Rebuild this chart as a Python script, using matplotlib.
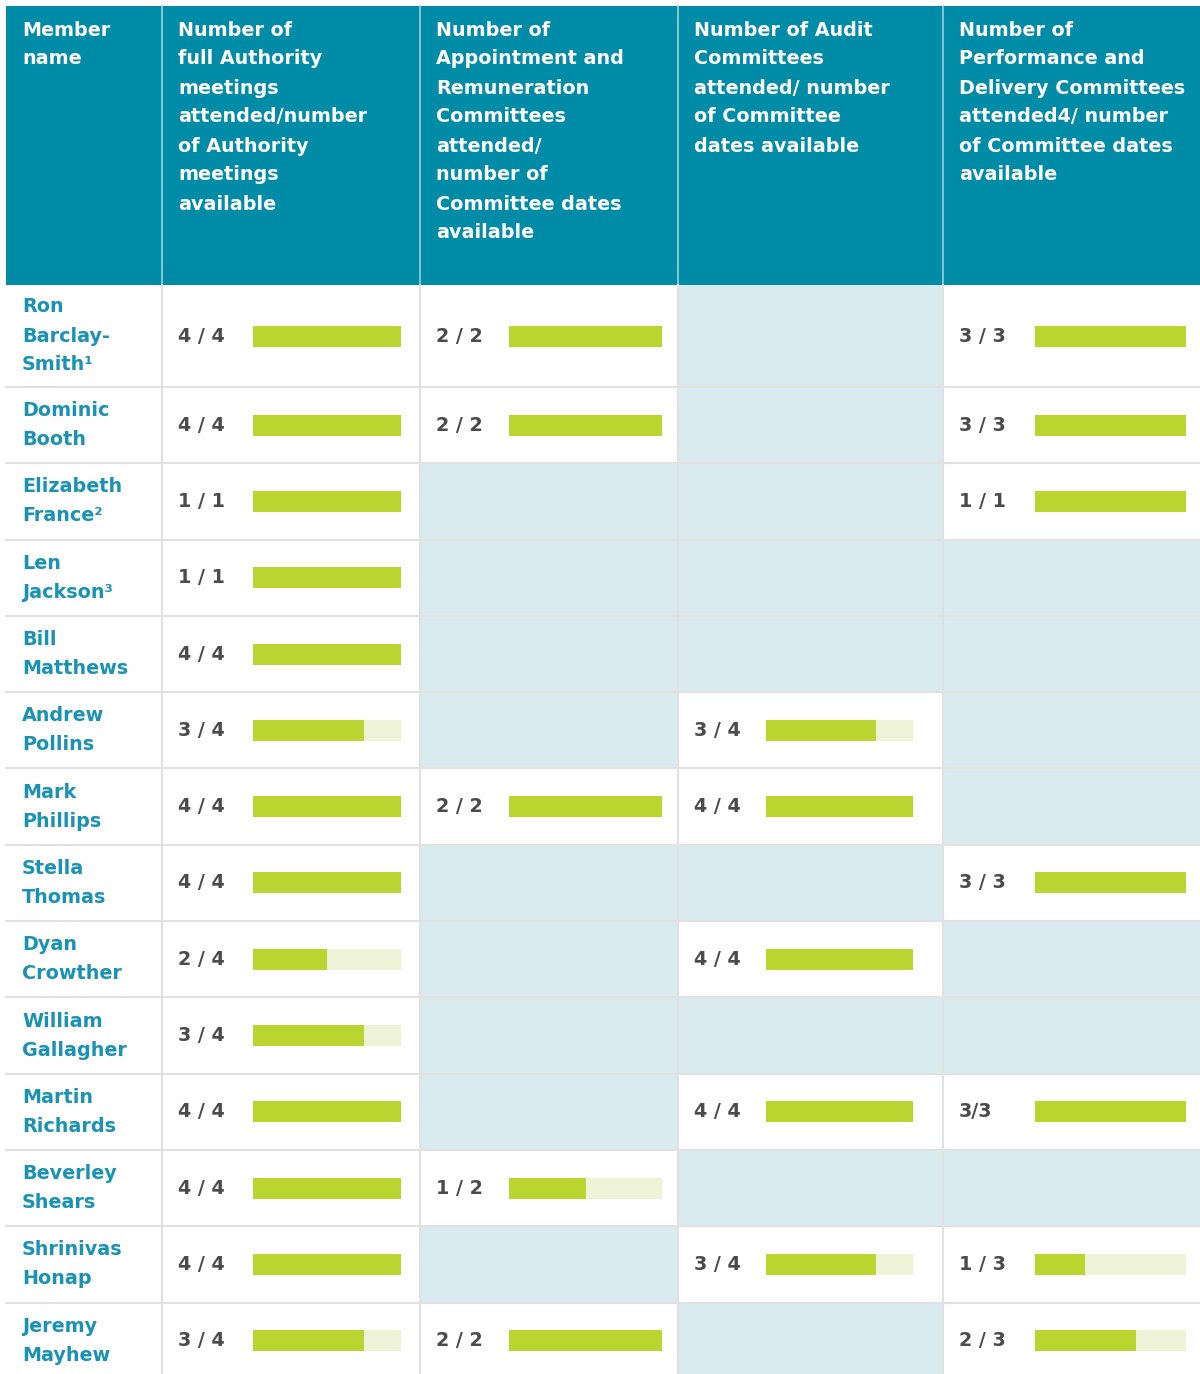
import matplotlib.pyplot as plt
from matplotlib.patches import Rectangle

plt.rcParams['font.family'] = ['DejaVu Sans']

# column headers
headers = [
    "Member\nname",
    "Number of\nfull Authority\nmeetings\nattended/number\nof Authority\nmeetings\navailable",
    "Number of\nAppointment and\nRemuneration\nCommittees\nattended/\nnumber of\nCommittee dates\navailable",
    "Number of Audit\nCommittees\nattended/ number\nof Committee\ndates available",
    "Number of\nPerformance and\nDelivery Committees\nattended4/ number\nof Committee dates\navailable",
]

members = [
    "Ron\nBarclay-\nSmith¹", "Dominic\nBooth", "Elizabeth\nFrance²", "Len\nJackson³",
    "Bill\nMatthews", "Andrew\nPollins", "Mark\nPhillips", "Stella\nThomas",
    "Dyan\nCrowther", "William\nGallagher", "Martin\nRichards", "Beverley\nShears",
    "Shrinivas\nHonap", "Jeremy\nMayhew",
]

# attended / available labels, None = not a member of that committee
authority = ["4 / 4", "4 / 4", "1 / 1", "1 / 1", "4 / 4", "3 / 4", "4 / 4",
             "4 / 4", "2 / 4", "3 / 4", "4 / 4", "4 / 4", "4 / 4", "3 / 4"]
appointment = ["2 / 2", "2 / 2", None, None, None, None, "2 / 2",
               None, None, None, None, "1 / 2", None, "2 / 2"]
audit = [None, None, None, None, None, "3 / 4", "4 / 4",
         None, "4 / 4", None, "4 / 4", None, "3 / 4", None]
performance = ["3 / 3", "3 / 3", "1 / 1", None, None, None, None,
               "3 / 3", None, None, "3/3", None, "1 / 3", "2 / 3"]

columns = [authority, appointment, audit, performance]

# layout in pixels
W, H = 1200, 1374
col_x = [6, 162, 420, 678, 943, 1200]
head_top, head_bot = 6, 285
first_row_h = 102
row_h = 76.3
bar_x = [253, 509, 766, 1035]
bar_len = [148, 153, 147, 151]
bar_h = 21
FS = 13.8

TEAL = "#008BA7"
NAME = "#1A93B3"
EMPTY = "#DAEBF0"
GRID = "#E1E1E1"
GREEN = "#BAD530"
PALE = "#EEF3D8"
NUM = "#4B4B4B"

row_top = [head_bot]
for i in range(len(members)):
    row_top.append(row_top[-1] + (first_row_h if i == 0 else row_h))

fig = plt.figure(figsize=(W / 100, H / 100), dpi=100)
ax = fig.add_axes([0, 0, 1, 1])
ax.set_xlim(0, W)
ax.set_ylim(H, 0)
ax.axis("off")

# header
ax.add_patch(Rectangle((col_x[0], head_top), col_x[-1] - col_x[0], head_bot - head_top,
                       color=TEAL, lw=0))
for j, txt in enumerate(headers):
    for k, line in enumerate(txt.split("\n")):
        ax.text(col_x[j] + 16, 30 + k * 29, line, color="white", fontsize=FS,
                fontweight="bold", va="center", ha="left")
for x in col_x[1:-1]:
    ax.plot([x, x], [head_top, head_bot], color="#9FCFDA", lw=1.2)

# body
for i, name in enumerate(members):
    top, bot = row_top[i], row_top[i + 1]
    yc = (top + bot) / 2
    lines = name.split("\n")
    for k, line in enumerate(lines):
        ax.text(col_x[0] + 16, yc + (k - (len(lines) - 1) / 2) * 29, line, color=NAME,
                fontsize=FS, fontweight="bold", va="center", ha="left")
    for j, col in enumerate(columns):
        x0, x1 = col_x[j + 1], col_x[j + 2]
        lab = col[i]
        if lab is None:
            ax.add_patch(Rectangle((x0, top), x1 - x0, bot - top, color=EMPTY, lw=0))
            continue
        att, avail = [int(v) for v in lab.split("/")]
        ax.text(x0 + 16, yc, lab, color=NUM, fontsize=FS, fontweight="bold",
                va="center", ha="left")
        ax.barh(yc, bar_len[j], left=bar_x[j], height=bar_h, color=PALE, lw=0)
        ax.barh(yc, bar_len[j] * att / avail, left=bar_x[j], height=bar_h, color=GREEN, lw=0)

# grid lines
for y in row_top[1:-1]:
    ax.plot([col_x[0], W], [y, y], color=GRID, lw=1.5)
for x in col_x[1:-1]:
    ax.plot([x, x], [head_bot, H], color=GRID, lw=1.5)

fig.savefig("out.png", dpi=100)
